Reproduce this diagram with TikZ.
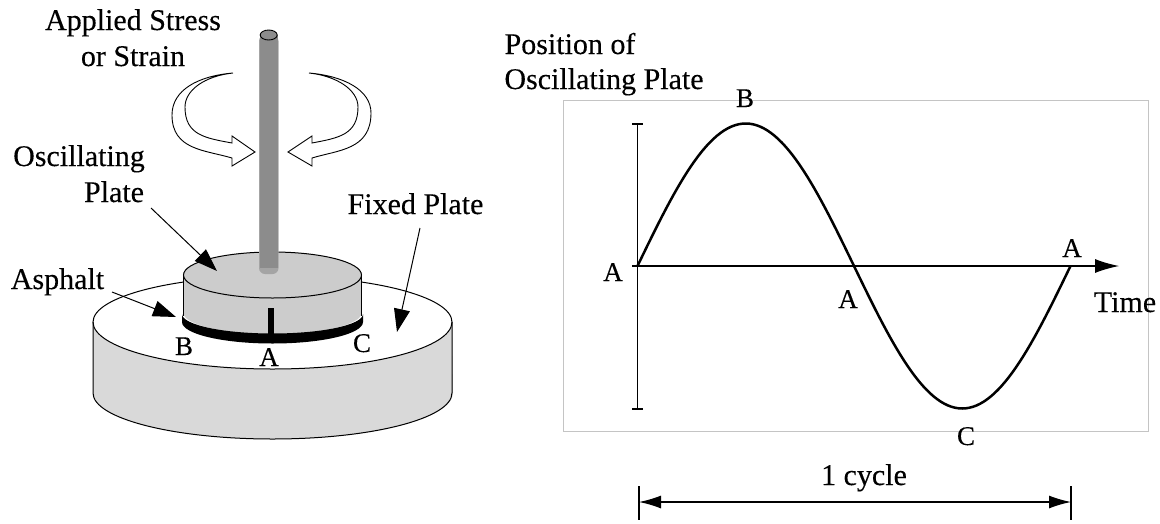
\documentclass[tikz,border=0pt]{standalone}
\usepackage{fontspec}
\setmainfont{Liberation Serif}[FakeBold=0.25]
\usetikzlibrary{arrows.meta}
\definecolor{rodgray}{HTML}{8C8C8C}
\definecolor{rodedge}{HTML}{A4A4A4}
\definecolor{upperfill}{HTML}{CCCCCC}
\definecolor{lowerfill}{HTML}{D9D9D9}
\definecolor{framegray}{HTML}{C4C4C4}
\tikzset{
  lbl/.style={anchor=base,inner sep=0pt,font=\fontsize{30}{32}\selectfont},
  letter/.style={anchor=base,inner sep=0pt,font=\fontsize{27}{29}\selectfont},
  edge/.style={draw=black,line width=1pt},
  leader/.style={draw=black,line width=1pt,-{Triangle[length=23pt,width=16pt]}},
  axis/.style={draw=black,line width=1.2pt},
  turn/.style={draw=black,fill=white,line width=0.9pt,line join=miter},
}
\begin{document}
\begin{tikzpicture}[x=1pt,y=-1pt]
\useasboundingbox[fill=white] (0,0) rectangle (1160,523);
% lower cylinder
\path[fill=lowerfill] (93,320) -- (93,393) arc[start angle=180,end angle=360,x radius=180pt,y radius=46pt] -- (452,320) -- cycle;
\path[edge,fill=white] (93,322) arc[start angle=180,end angle=0,x radius=179.5pt,y radius=46pt] arc[start angle=360,end angle=180,x radius=179.5pt,y radius=47pt] -- cycle;
\draw[edge] (93,322) -- (93,393) arc[start angle=180,end angle=360,x radius=179.5pt,y radius=46pt] -- (452,322);
% upper cylinder
\path[fill=upperfill] (183.5,275) -- (183.5,313) arc[start angle=180,end angle=360,x radius=89pt,y radius=21pt] -- (361.5,275) -- cycle;
\path[fill=black] (182,314) arc[start angle=180,end angle=360,x radius=90.5pt,y radius=19.5pt] -- (363,322) arc[start angle=360,end angle=180,x radius=90.5pt,y radius=21.5pt] -- cycle;
\path[fill=black] (268,308) rectangle (274,340);
\draw[edge,fill=upperfill] (272.5,275) ellipse[x radius=89pt,y radius=23pt];
\draw[edge] (183.5,275) -- (183.5,316);
\draw[edge] (361.5,275) -- (361.5,316);
% rod
\path[fill=rodedge,rounded corners=6pt] (259,35) -- (259,274) -- (278.5,274) -- (278.5,35) -- cycle;
\path[fill=rodgray] (260,35) rectangle (277.5,268);
\draw[line width=0.9pt,fill=rodgray] (268.7,35) ellipse[x radius=8.5pt,y radius=5pt];
% rotation arrows
\draw[turn] (233,73) .. controls (198,76) and (172,90) .. (172,115) .. controls (172,150) and (205,150) .. (232,158) -- (232,166) -- (255,152) -- (232,136) -- (232,143) .. controls (205,138) and (185,135) .. (185,107) .. controls (185,90) and (205,76) .. (233,73) -- cycle;
\draw[turn] (309,73) .. controls (344,76) and (371,90) .. (371,113) .. controls (371,150) and (338,150) .. (312,158) -- (312,166) -- (288,152) -- (312,136) -- (312,143) .. controls (338,138) and (358,135) .. (358,107) .. controls (358,90) and (337,76) .. (309,73) -- cycle;
% left labels
\node[lbl] (applied) at (133,30) {Applied Stress};
\node[lbl] (strain) at (133,66) {or Strain};
\node[lbl] (osc) at (79,166) {Oscillating};
\node[lbl] (oscb) at (114,202) {Plate};
\node[lbl] (fixed) at (415.5,214) {Fixed Plate};
\node[lbl] (asphalt) at (57.5,289) {Asphalt};
\node[letter] (pb) at (184,355) {B};
\node[letter] (pa) at (269,366) {A};
\node[letter] (pc) at (362,352) {C};
\coordinate (t1s) at (151,208); \coordinate (t1e) at (217,271);
\coordinate (t2s) at (112,292); \coordinate (t2e) at (176,317);
\coordinate (t3s) at (420,228); \coordinate (t3e) at (397,332);
\draw[leader] (t1s) -- (t1e);
\draw[leader] (t2s) -- (t2e);
\draw[leader] (t3s) -- (t3e);
% chart
\draw[framegray,line width=1pt] (563,100) rectangle (1148,431);
\coordinate (vtop) at (637.5,124);
\coordinate (vbot) at (637.5,409);
\coordinate (hl) at (632,266);
\coordinate (hr) at (1119,266);
\draw[axis] (vtop) -- (vbot);
\draw[axis] (632,124) -- (643,124);
\draw[axis] (632,409) -- (643,409);
\draw[axis,-{Latex[length=24pt,width=14pt]}] (hl) -- (hr);
\draw[line width=2.5pt,line join=round,domain=0:1,samples=121,variable=\t] plot ({637.5+433*\t},{266-142.5*sin(360*\t)});
\node[lbl] (pos1) at (570,54) {Position of};
\node[lbl] (pos2) at (604,89) {Oscillating Plate};
\node[letter] (cb) at (745,107) {B};
\node[letter] (ca1) at (613,281) {A};
\node[letter] (ca2) at (848,308) {A};
\node[letter] (ca3) at (1072,257) {A};
\node[letter] (cc) at (966,445) {C};
\node[lbl] (time) at (1125,312) {Time};
\node[lbl] (cycle) at (864,485) {1 cycle};
\coordinate (dl) at (639,502);
\coordinate (dr) at (1071,502);
\draw[axis] (639,486) -- (639,520);
\draw[axis] (1071,486) -- (1071,520);
\draw[axis,{Latex[length=22pt,width=13pt]}-{Latex[length=22pt,width=13pt]}] (dl) -- (dr);
\end{tikzpicture}
\end{document}
